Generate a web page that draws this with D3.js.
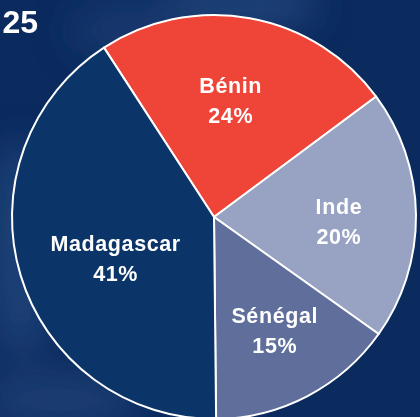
<!DOCTYPE html>
<html lang="fr">
    <head>
        <meta charset="utf-8">
        <title>Répartition par pays</title>
        <script type="text/javascript" src="https://d3js.org/d3.v7.min.js"></script>
        <style>
            body { margin: 0; background: #0b2b5f; }
            #chart text {
                font-family: "Liberation Sans", Arial, sans-serif;
                font-weight: bold;
                fill: white;
            }
        </style>
    </head>
    <body>
        <svg id="chart"></svg>
    </body>
    <script>
        // data
        let countries = ["Bénin", "Inde", "Sénégal", "Madagascar"];
        let shares = [24, 20, 15, 41];
        let titleText = "25";

        // layout / style (not data)
        let colors = ["#ef4438", "#98a3c3", "#5f6e9b", "#0b3468"];
        let labelDist = [117, 125, 129, 107];
        let labelTurn = [-2, 3, -0.5, -6.4];   // degrees, small nudges of the label angle

        let width = 420, height = 417;
        let cx = 214, cy = 217, radius = 202;

        let svg = d3.select("#chart")
            .attr("width", width)
            .attr("height", height);

        // background, roughly like the blurred photo behind the chart
        let defs = svg.append("defs");
        defs.append("filter").attr("id", "blur")
            .append("feGaussianBlur").attr("stdDeviation", 18);

        svg.append("rect")
            .attr("width", width).attr("height", height)
            .attr("fill", "#0b2b5f");

        let blobs = svg.append("g").attr("filter", "url(#blur)");
        blobs.append("ellipse").attr("cx", 20).attr("cy", 250).attr("rx", 35).attr("ry", 110)
            .attr("fill", "#2a4f86").attr("opacity", 0.6);
        blobs.append("ellipse").attr("cx", 240).attr("cy", 5).attr("rx", 80).attr("ry", 25)
            .attr("fill", "#2d5288").attr("opacity", 0.6);
        blobs.append("ellipse").attr("cx", 60).attr("cy", 400).attr("rx", 80).attr("ry", 30)
            .attr("fill", "#2a4d84").attr("opacity", 0.5);
        blobs.append("ellipse").attr("cx", 130).attr("cy", 30).attr("rx", 60).attr("ry", 30)
            .attr("fill", "#1c3f76").attr("opacity", 0.6);

        // title fragment
        svg.append("text")
            .attr("x", 38)
            .attr("y", 33)
            .attr("text-anchor", "end")
            .style("font-size", "32px")
            .text(titleText);

        let data = countries.map((c, i) => ({
            name: c, value: shares[i], color: colors[i],
            dist: labelDist[i], turn: labelTurn[i] * Math.PI / 180
        }));

        let startA = -33 * Math.PI / 180;
        let pie = d3.pie()
            .sort(null)
            .value(d => d.value)
            .startAngle(startA)
            .endAngle(startA + 2 * Math.PI);

        let arc = d3.arc().innerRadius(0).outerRadius(radius);

        let g = svg.append("g").attr("transform", `translate(${cx},${cy})`);

        let arcs = pie(data);

        g.selectAll("path")
            .data(arcs)
            .enter()
            .append("path")
            .attr("d", arc)
            .attr("fill", d => d.data.color)
            .attr("stroke", "white")
            .attr("stroke-width", 2)
            .attr("stroke-linejoin", "round");

        let labels = g.selectAll("g.label")
            .data(arcs)
            .enter()
            .append("g")
            .attr("class", "label")
            .attr("transform", d => {
                let a = (d.startAngle + d.endAngle) / 2 + d.data.turn;
                let x = d.data.dist * Math.sin(a);
                let y = -d.data.dist * Math.cos(a);
                return `translate(${x},${y})`;
            });

        labels.append("text")
            .attr("text-anchor", "middle")
            .attr("y", -8)
            .style("font-size", "21.5px")
            .style("letter-spacing", "0.6px")
            .text(d => d.data.name);

        labels.append("text")
            .attr("text-anchor", "middle")
            .attr("y", 22)
            .style("font-size", "21.5px")
            .style("letter-spacing", "0.6px")
            .text(d => d.data.value + "%");
    </script>
</html>
